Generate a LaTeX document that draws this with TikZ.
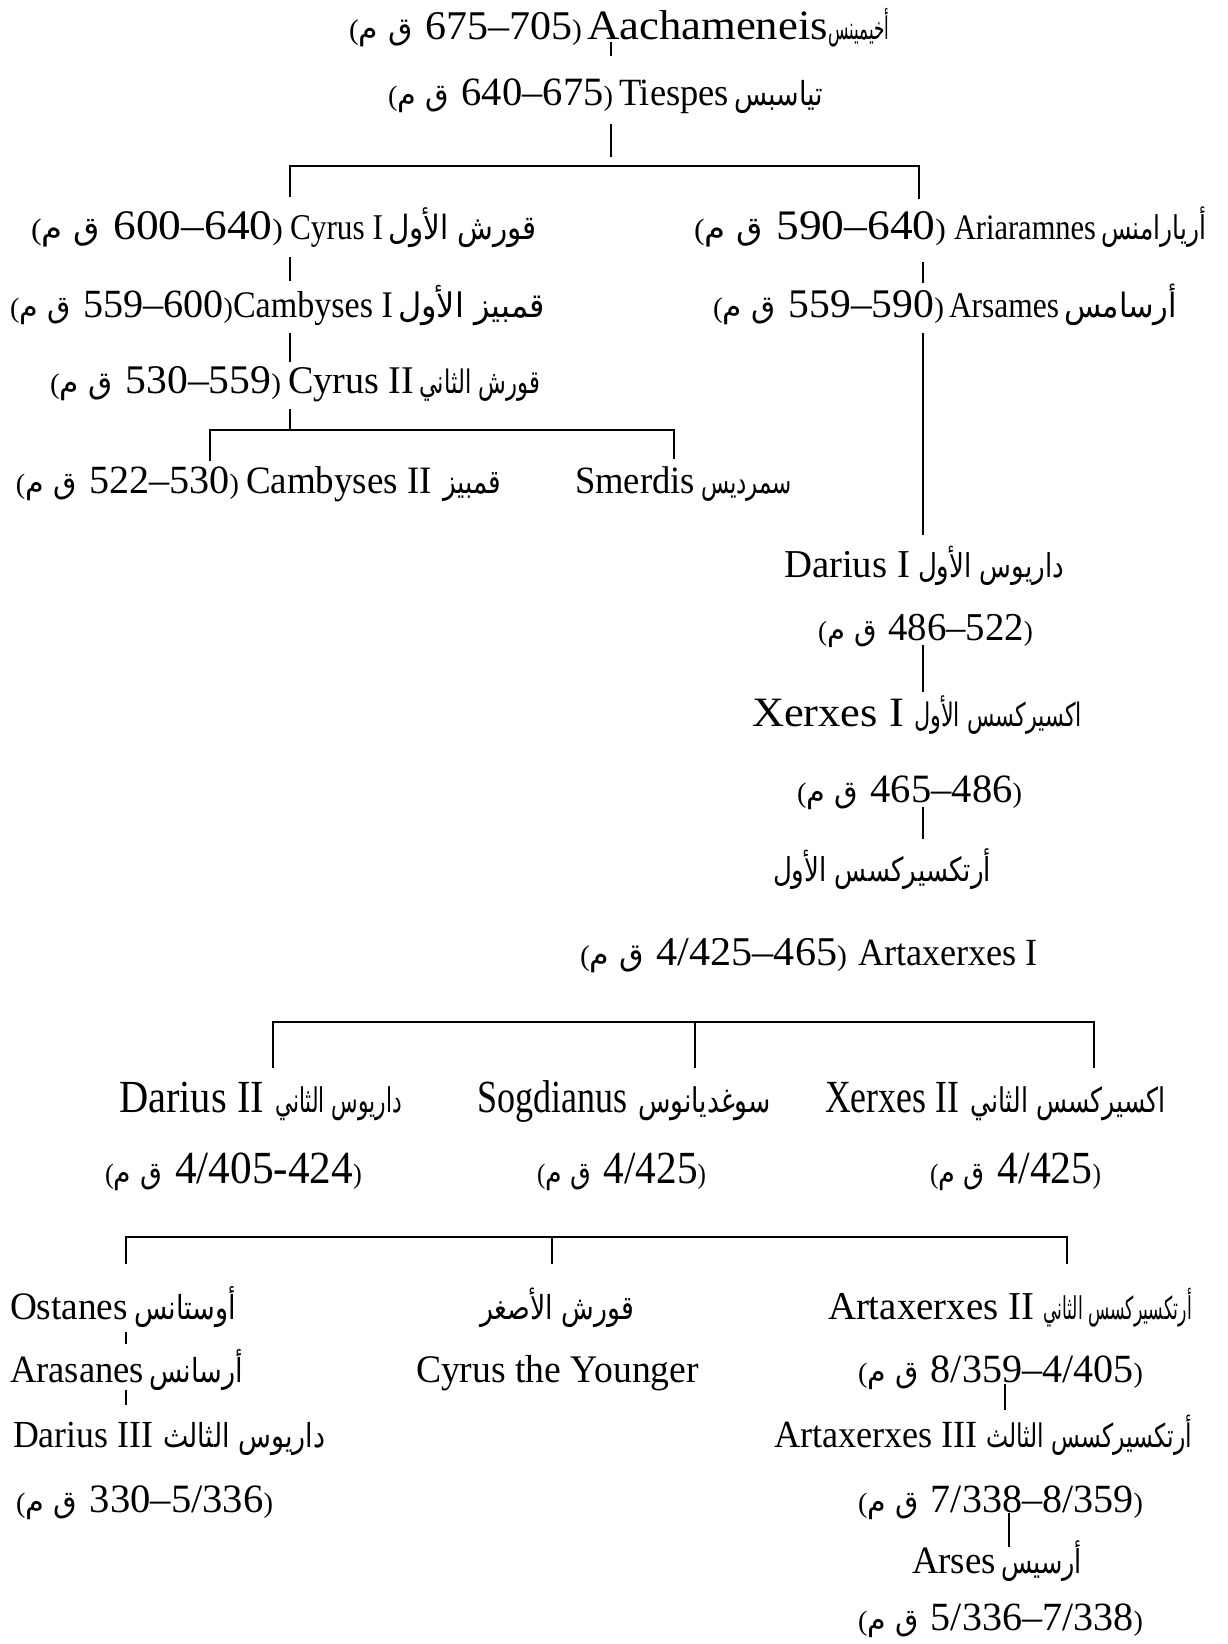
\documentclass[tikz,border=0pt]{standalone}
\usepackage{fontspec}
\usepackage{graphicx}
\setmainfont{Liberation Serif}
\newfontfamily\arabicfont[Script=Arabic]{DejaVu Sans}
\TeXXeTstate=1
\newcommand{\arf}{\fontsize{34}{36}\arabicfont}
% fit width, keep height (condensed)
\newcommand{\fitw}[2]{\resizebox{#1pt}{\height}{#2}}
% fit width, height scaled by (width factor)^exponent
\newsavebox\fitbox
\newlength\fitlen
\newcommand{\fitp}[3]{\sbox\fitbox{#3}\setlength\fitlen{\wd\fitbox}%
  \pgfmathsetmacro\fitsc{(#2/\fitlen)^#1}%
  \resizebox{#2pt}{\fitsc\ht\fitbox}{\usebox\fitbox}}
\newcommand{\fitm}[2]{\fitp{0.4}{#1}{#2}}
\newcommand{\fita}[2]{\fitp{0.12}{#1}{{\arf #2}}}
\newcommand{\dtx}[1]{{\fontsize{28}{30}\selectfont(}{\fontsize{30}{32}\arabicfont\beginR ق م\endR}\hspace{0.3em}#1{\fontsize{28}{30}\selectfont)}}
\begin{document}
\begin{tikzpicture}[x=1pt,y=-1pt,
  t/.style={anchor=base west, inner sep=0pt, outer sep=0pt, font=\fontsize{40}{42}\selectfont},
  tm/.style={t, font=\fontsize{46}{48}\selectfont},
  conn/.style={line width=1.2pt, black}]
\useasboundingbox[fill=white] (0,0) rectangle (1228,1644);

% Row 1
\node[t] (r1d) at (349,39) {\fitm{233}{\dtx{675–705}}};
\node[t] (r1l) at (587,39) {\fitm{241}{Aachameneis}};
\node[t] (r1a) at (828,39) {\fita{61}{\beginR أخيمينس\endR}};
% Row 2
\node[t] (r2d) at (388,105) {\fitm{225}{\dtx{640–675}}};
\node[t] (r2l) at (619,105) {\fitm{110}{Tiespes}};
\node[t] (r2a) at (734,105) {\fita{89}{\beginR تياسبس\endR}};
% Row 3
\node[t] (r3d) at (31,239) {\fitm{252}{\dtx{600–640}}};
\node[t] (r3l) at (290,239) {\fitm{93}{Cyrus I}};
\node[t] (r3a) at (388,239) {\fita{149}{\beginR قورش الأول\endR}};
\node[t] (r3rd) at (694,239) {\fitm{252}{\dtx{590–640}}};
\node[t] (r3rl) at (954,239) {\fitm{142}{Ariaramnes}};
\node[t] (r3ra) at (1101,239) {\fita{105}{\beginR أريارامنس\endR}};
% Row 4
\node[t] (r4d) at (10,317) {\fitm{223}{\dtx{559–600}}};
\node[t] (r4l) at (233,317) {\fitm{160}{Cambyses I}};
\node[t] (r4a) at (398,317) {\fita{147}{\beginR قمبيز الأول\endR}};
\node[t] (r4rd) at (713,317) {\fitm{231}{\dtx{559–590}}};
\node[t] (r4rl) at (949,317) {\fitm{110}{Arsames}};
\node[t] (r4ra) at (1064,317) {\fita{113}{\beginR أرسامس\endR}};
% Row 5
\node[t] (r5d) at (50,393) {\fitm{231}{\dtx{530–559}}};
\node[t] (r5l) at (288,393) {\fitm{126}{Cyrus II}};
\node[t] (r5a) at (419,393) {\fita{121}{\beginR قورش الثاني\endR}};
% Row 6
\node[t] (r6d) at (16,493) {\fitm{223}{\dtx{522–530}}};
\node[t] (r6l) at (246,493) {\fitm{186}{Cambyses II}};
\node[t] (r6a) at (443,493) {\fita{58}{\beginR قمبيز\endR}};
\node[t] (r6sl) at (575,493) {\fitm{120}{Smerdis}};
\node[t] (r6sa) at (701,493) {\fita{91}{\beginR سمرديس\endR}};
% Darius I branch
\node[t] (d1l) at (784,577) {\fitm{126}{Darius I}};
\node[t] (d1a) at (918,577) {\fita{146}{\beginR داريوس الأول\endR}};
\node[t] (d1d) at (818,640) {\fitm{215}{\dtx{486–522}}};
\node[t] (x1l) at (752,726) {\fitm{152}{Xerxes I}};
\node[t] (x1a) at (914,726) {\fita{168}{\beginR اكسيركسس الأول\endR}};
\node[t] (x1d) at (797,802) {\fitm{225}{\dtx{465–486}}};
\node[t] (a1a) at (773,881) {\fita{218}{\beginR أرتكسيركسس الأول\endR}};
\node[t] (a1d) at (580,965) {\fitm{267}{\dtx{4/425–465}}};
\node[t] (a1l) at (858,965) {\fitm{180}{Artaxerxes I}};
% Middle generation
\node[tm] (d2l) at (119,1112) {\fitw{145}{Darius II}};
\node[tm] (d2a) at (275,1112) {\fitw{127}{{\arf\beginR داريوس الثاني\endR}}};
\node[tm] (sgl) at (477,1112) {\fitw{150}{Sogdianus}};
\node[tm] (sga) at (638,1112) {\fitw{133}{{\arf\beginR سوغديانوس\endR}}};
\node[tm] (x2l) at (825,1112) {\fitw{134}{Xerxes II}};
\node[tm] (x2a) at (970,1112) {\fitw{196}{{\arf\beginR اكسيركسس الثاني\endR}}};
\node[tm] (d2d) at (105,1183) {\fitw{257}{\dtx{4/405-424}}};
\node[tm] (sgd) at (537,1183) {\fitw{169}{\dtx{4/425}}};
\node[tm] (x2d) at (930,1183) {\fitw{171}{\dtx{4/425}}};
% Bottom generation
\node[t] (osl) at (10,1319) {\fitm{118}{Ostanes}};
\node[t] (osa) at (134,1319) {\fita{102}{\beginR أوستانس\endR}};
\node[t] (cya) at (480,1319) {\fita{154}{\beginR قورش الأصغر\endR}};
\node[t] (a2l) at (828,1319) {\fitm{206}{Artaxerxes II}};
\node[t] (a2a) at (1043,1319) {\fita{149}{\beginR أرتكسيركسس الثاني\endR}};
\node[t] (arl) at (10,1382) {\fitm{134}{Arasanes}};
\node[t] (ara) at (149,1382) {\fita{94}{\beginR أرسانس\endR}};
\node[t] (cyl) at (416,1382) {\fitm{283}{Cyrus the Younger}};
\node[t] (a2d) at (858,1382) {\fitm{285}{\dtx{8/359–4/405}}};
\node[t] (d3l) at (13,1447) {\fitm{140}{Darius III}};
\node[t] (d3a) at (163,1447) {\fita{162}{\beginR داريوس الثالث\endR}};
\node[t] (a3l) at (774,1447) {\fitm{204}{Artaxerxes III}};
\node[t] (a3a) at (986,1447) {\fita{206}{\beginR أرتكسيركسس الثالث\endR}};
\node[t] (d3d) at (16,1512) {\fitm{257}{\dtx{330–5/336}}};
\node[t] (a3d) at (858,1512) {\fitm{285}{\dtx{7/338–8/359}}};
\node[t] (asl) at (912,1573) {\fitm{84}{Arses}};
\node[t] (asa) at (1001,1573) {\fita{81}{\beginR أرسيس\endR}};
\node[t] (asd) at (858,1630) {\fitm{285}{\dtx{5/336–7/338}}};

% connector points
\coordinate (p1a) at (611,42); \coordinate (p1b) at (611,56);
\coordinate (p2a) at (611,124); \coordinate (p2b) at (611,157);
\coordinate (h1l) at (290,166); \coordinate (h1r) at (919,166);
\coordinate (h1ld) at (290,197); \coordinate (h1rd) at (919,199);
\coordinate (p3a) at (290,257); \coordinate (p3b) at (290,281);
\coordinate (p4a) at (923,262); \coordinate (p4b) at (923,283);
\coordinate (p5a) at (290,333); \coordinate (p5b) at (290,362);
\coordinate (p6a) at (923,333); \coordinate (p6b) at (923,535);
\coordinate (p7a) at (290,409); \coordinate (h2m) at (290,430);
\coordinate (h2l) at (210,430); \coordinate (h2r) at (674,430);
\coordinate (h2ld) at (210,461); \coordinate (h2rd) at (674,459);
\coordinate (p8a) at (923,645); \coordinate (p8b) at (923,692);
\coordinate (p9a) at (923,807); \coordinate (p9b) at (923,839);
\coordinate (h3l) at (273,1022); \coordinate (h3m) at (695,1022); \coordinate (h3r) at (1094,1022);
\coordinate (h3ld) at (273,1068); \coordinate (h3md) at (695,1068); \coordinate (h3rd) at (1094,1068);
\coordinate (h4l) at (126,1237); \coordinate (h4m) at (552,1237); \coordinate (h4r) at (1067,1237);
\coordinate (h4ld) at (126,1264); \coordinate (h4md) at (552,1264); \coordinate (h4rd) at (1067,1264);
\coordinate (q1a) at (126,1332); \coordinate (q1b) at (126,1344);
\coordinate (q2a) at (126,1390); \coordinate (q2b) at (126,1405);
\coordinate (q3a) at (1005,1384); \coordinate (q3b) at (1005,1410);
\coordinate (q4a) at (1009,1513); \coordinate (q4b) at (1009,1547);

\draw[conn] (p1a) -- (p1b);
\draw[conn] (p2a) -- (p2b);
\draw[conn] (h1ld) -- (h1l) -- (h1r) -- (h1rd);
\draw[conn] (p3a) -- (p3b);
\draw[conn] (p4a) -- (p4b);
\draw[conn] (p5a) -- (p5b);
\draw[conn] (p6a) -- (p6b);
\draw[conn] (p7a) -- (h2m);
\draw[conn] (h2ld) -- (h2l) -- (h2r) -- (h2rd);
\draw[conn] (p8a) -- (p8b);
\draw[conn] (p9a) -- (p9b);
\draw[conn] (h3ld) -- (h3l) -- (h3r) -- (h3rd);
\draw[conn] (h3m) -- (h3md);
\draw[conn] (h4ld) -- (h4l) -- (h4r) -- (h4rd);
\draw[conn] (h4m) -- (h4md);
\draw[conn] (q1a) -- (q1b);
\draw[conn] (q2a) -- (q2b);
\draw[conn] (q3a) -- (q3b);
\draw[conn] (q4a) -- (q4b);
\end{tikzpicture}
\end{document}
